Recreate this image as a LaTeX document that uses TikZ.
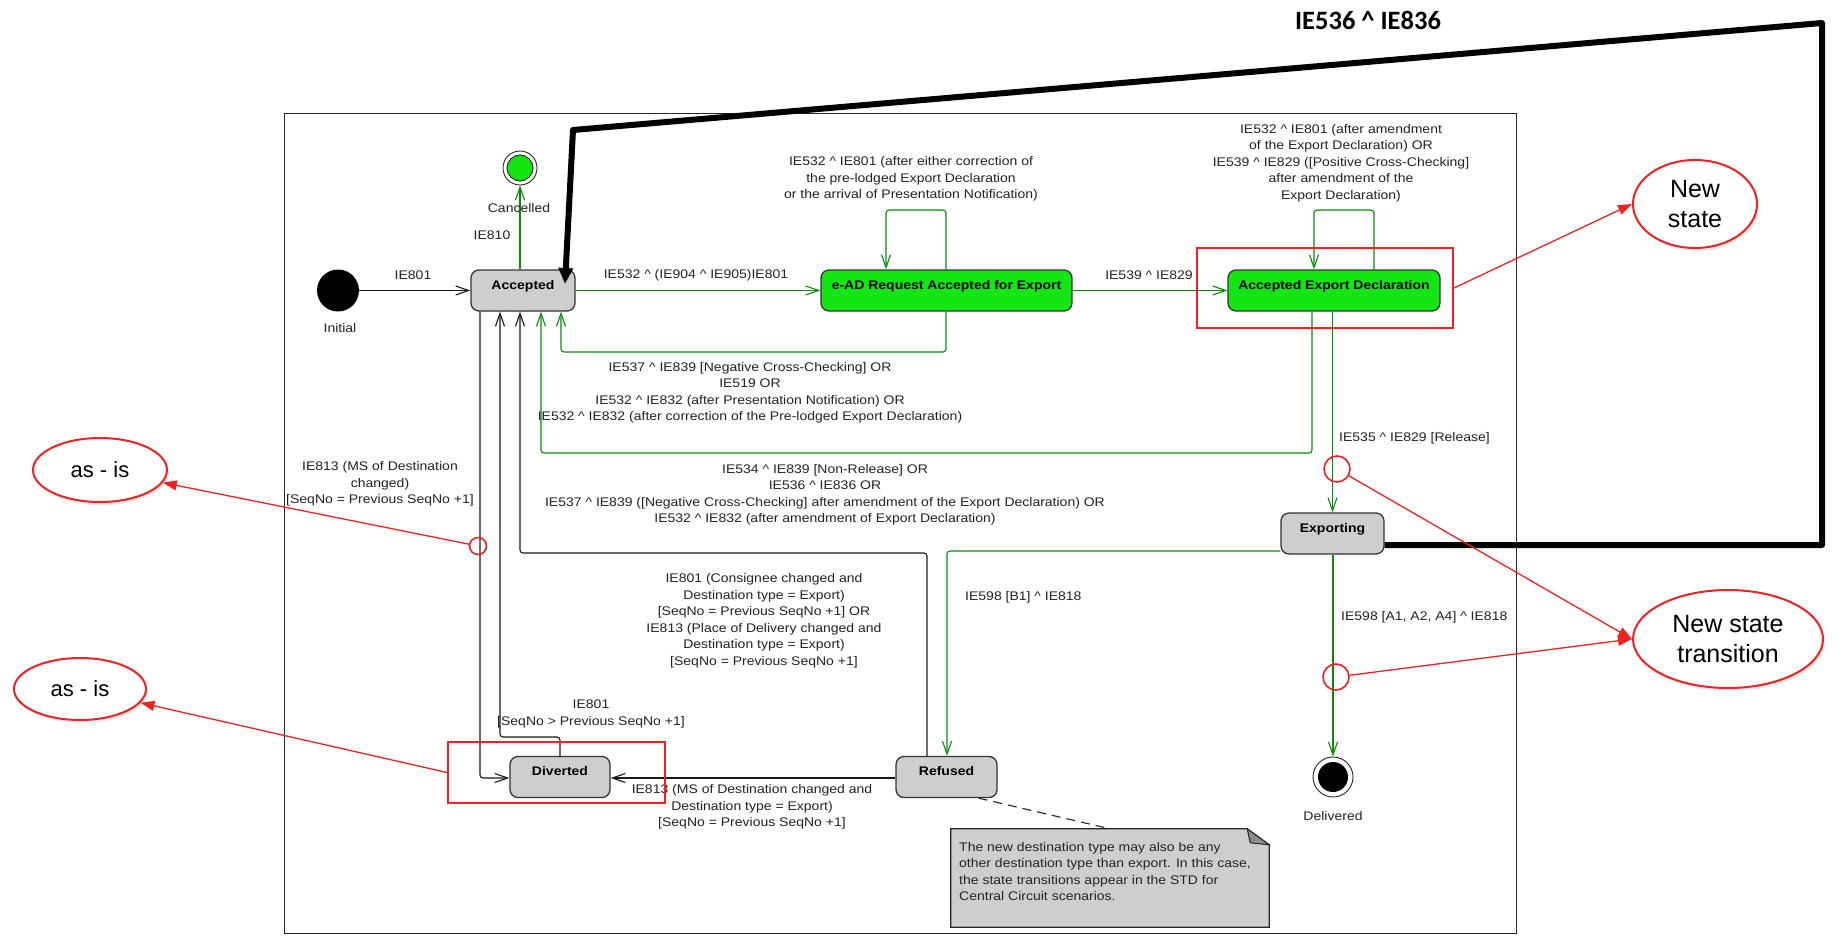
\documentclass[tikz,border=0pt]{standalone}
\usepackage{fontspec}
\setmainfont{Liberation Sans}[FakeStretch=1.12]
\newfontfamily\annfont{Liberation Sans}
\newfontfamily\titlefont{Carlito}
\usetikzlibrary{arrows.meta,shapes.geometric,shadows}
\newcommand{\caretsym}{\textasciicircum}
\definecolor{stgreen}{RGB}{20,230,20}
\definecolor{lngreen}{RGB}{10,140,10}
\definecolor{stgray}{RGB}{206,206,206}
\definecolor{annred}{RGB}{235,35,35}
\definecolor{txt}{RGB}{35,35,35}
\begin{document}
\begin{tikzpicture}[x=1pt,y=-1pt,
  lbl/.style={font=\fontsize{12.5}{16.5}\selectfont, text=txt, align=center, inner sep=0pt},
  statebox/.style={draw=black!80, line width=1.3pt, rounded corners=8pt, fill=stgray,
     font=\fontsize{12.5}{16}\selectfont\bfseries, text=black, inner sep=0pt,
     minimum height=41pt, text height=9pt, text depth=12pt},
  greenstate/.style={statebox, fill=stgreen},
  gline/.style={draw=lngreen, line width=1.1pt, rounded corners=3pt},
  bline/.style={draw=black!90, line width=1.1pt, rounded corners=3pt},
  umlarrow/.style={-{Straight Barb[length=13pt,width=9pt,line width=1.1pt]}},
  redbox/.style={draw=annred, line width=2pt, inner sep=0pt},
  redcirc/.style={circle, draw=annred, line width=1.6pt, inner sep=0pt},
  annell/.style={ellipse, draw=annred, line width=2pt, fill=white, inner sep=0pt,
     drop shadow={opacity=0.18, shadow xshift=2pt, shadow yshift=-3pt},
     font=\annfont\fontsize{25}{30}\selectfont, text=black, align=center},
  rarrow/.style={draw=annred, line width=1.3pt, -{Triangle[length=14pt,width=10pt]}}
]
\useasboundingbox (0,0) rectangle (1847,936);
\fill[white] (0,0) rectangle (1847,936);

% frame
\draw[line width=1pt, black!85] (284,114) rectangle (1516,933);

% title
\node[font=\titlefont\bfseries\fontsize{26.5}{30}\selectfont, text=black, inner sep=0pt] (title) at (1368,20) {IE536 \caretsym{} IE836};

% states
\node[circle, fill=black, minimum size=42pt, inner sep=0pt] (init) at (338,290.5) {};
\node[lbl] (initlbl) at (340,328) {Initial};
\node[statebox, minimum width=104pt] (acc) at (523,290.5) {Accepted};
\node[greenstate, minimum width=251pt] (ead) at (946.5,290.5) {e-AD Request Accepted for Export};
\node[greenstate, minimum width=212pt] (aed) at (1334,290.5) {Accepted Export Declaration};
\node[statebox, minimum width=103pt] (exp) at (1332.5,533.5) {Exporting};
\node[statebox, minimum width=100pt] (div) at (560,777) {Diverted};
\node[statebox, minimum width=101pt] (ref) at (946.5,777) {Refused};
\node[circle, draw=black!85, line width=0.9pt, fill=white, minimum size=34pt, inner sep=0pt] (canc) at (520,168) {};
\node[circle, draw=black!85, line width=0.9pt, fill=stgreen, minimum size=26pt, inner sep=0pt] (cancin) at (canc) {};
\node[circle, draw=black!85, line width=0.9pt, fill=white, minimum size=40pt, inner sep=0pt] (del) at (1333,777) {};
\node[circle, fill=black, minimum size=30pt, inner sep=0pt] (delin) at (del) {};
\node[lbl] (dellbl) at (1333,816) {Delivered};

% note
\node[minimum width=318pt, minimum height=98pt, inner sep=0pt] (note) at (1110,878) {};
\draw[fill=stgray, draw=black!85, line width=1.2pt] (note.north west) -- ([xshift=-22pt]note.north east) -- ([yshift=-16pt]note.north east) -- (note.south east) -- (note.south west) -- cycle;
\draw[fill=black!45, draw=black!85, line width=1pt] ([xshift=-22pt]note.north east) -- ([xshift=-19pt,yshift=-14pt]note.north east) -- ([yshift=-16pt]note.north east) -- cycle;
\node[lbl, align=left, anchor=north west] (notetxt) at (959,842) {The new destination type may also be any\\other destination type than export. In this case,\\the state transitions appear in the STD for\\Central Circuit scenarios.};

% coordinates for bends
\coordinate (l1r) at (946,210);
\coordinate (l1l) at (886,210);
\coordinate (l2r) at (1374,210);
\coordinate (l2l) at (1314,210);
\coordinate (r1a) at (946,352);
\coordinate (r1b) at (561,352);
\coordinate (r2a) at (1312,453);
\coordinate (r2b) at (541,453);
\coordinate (e1) at (947,551);
\coordinate (t1) at (1822,545);
\coordinate (t2) at (1822,23);
\coordinate (t3) at (573,130);
\coordinate (t4) at (565,284);
\coordinate (d1) at (480,778);
\coordinate (d2) at (500,737);
\coordinate (f1) at (927,553);
\coordinate (f2) at (520,553);

% connectors
\draw[gline, umlarrow] (acc.north -| canc) -- (canc.south);
\draw[bline, umlarrow] (init.east) -- (acc.west);
\draw[gline, umlarrow] (acc.east) -- (ead.west);
\draw[gline, umlarrow] (ead.north -| l1r) -- (l1r) -- (l1l) -- (ead.north -| l1l);
\draw[gline, umlarrow] (ead.south -| r1a) -- (r1a) -- (r1b) -- (acc.south -| r1b);
\draw[gline, umlarrow] (ead.east) -- (aed.west);
\draw[gline, umlarrow] (aed.north -| l2r) -- (l2r) -- (l2l) -- (aed.north -| l2l);
\draw[gline, umlarrow] (aed.south -| r2a) -- (r2a) -- (r2b) -- (acc.south -| r2b);
\draw[gline, umlarrow] (aed.south -| exp) -- (exp.north);
\draw[gline, umlarrow] (exp.west |- e1) -- (e1) -- (ref.north -| e1);
\draw[gline, umlarrow] (exp.south -| del) -- (del.north);
\draw[bline, umlarrow] (acc.south -| d1) -- (d1) -- (div.west |- d1);
\draw[bline, umlarrow] (div.north) -- (div.north |- d2) -- (d2) -- (acc.south -| d2);
\draw[bline, umlarrow] (ref.north -| f1) -- (f1) -- (f2) -- (acc.south -| f2);
\draw[bline, umlarrow] (ref.west |- d1) -- (div.east |- d1);
\draw[black!85, line width=1.1pt, dash pattern=on 9pt off 6pt] ([xshift=-19pt]ref.south east) -- (note.north);
\draw[line width=6pt, line join=round, -{Triangle[length=16pt,width=14pt]}] (exp.east |- t1) -- (t1) -- (t2) -- (t3) -- (t4);

% labels
\node[lbl] (canclbl) at (519,208) {Cancelled};
\node[lbl] (lb1) at (413,275) {IE801};
\node[lbl] (lb2) at (492,235) {IE810};
\node[lbl] (lb3) at (696,275) {IE532 \caretsym{} (IE904 \caretsym{} IE905)IE801};
\node[lbl] (lb4) at (911,179) {IE532 \caretsym{} IE801 (after either correction of\\the pre-lodged Export Declaration\\or the arrival of Presentation Notification)};
\node[lbl] (lb5) at (1149,275) {IE539 \caretsym{} IE829};
\node[lbl] (lb6) at (1341,163) {IE532 \caretsym{} IE801 (after amendment\\of the Export Declaration) OR\\IE539 \caretsym{} IE829 ([Positive Cross-Checking]\\after amendment of the\\Export Declaration)};
\node[lbl] (lb7) at (750,393) {IE537 \caretsym{} IE839 [Negative Cross-Checking] OR\\IE519 OR\\IE532 \caretsym{} IE832 (after Presentation Notification) OR\\IE532 \caretsym{} IE832 (after correction of the Pre-lodged Export Declaration)};
\node[lbl] (lb8) at (825,495) {IE534 \caretsym{} IE839 [Non-Release] OR\\IE536 \caretsym{} IE836 OR\\IE537 \caretsym{} IE839 ([Negative Cross-Checking] after amendment of the Export Declaration) OR\\IE532 \caretsym{} IE832 (after amendment of Export Declaration)};
\node[lbl, anchor=west] (lb9) at (1339,438) {IE535 \caretsym{} IE829 [Release]};
\node[lbl] (lb10) at (380,484) {IE813 (MS of Destination\\changed)\\{[}SeqNo = Previous SeqNo +1{]}};
\node[lbl] (lb11) at (764,621) {IE801 (Consignee changed and\\Destination type = Export)\\{[}SeqNo = Previous SeqNo +1{]} OR\\IE813 (Place of Delivery changed and\\Destination type = Export)\\{[}SeqNo = Previous SeqNo +1{]}};
\node[lbl] (lb12) at (591,714) {IE801\\{[}SeqNo > Previous SeqNo +1{]}};
\node[lbl] (lb13) at (752,807) {IE813 (MS of Destination changed and\\Destination type = Export)\\{[}SeqNo = Previous SeqNo +1{]}};
\node[lbl, anchor=west] (lb14) at (965,597) {IE598 [B1] \caretsym{} IE818};
\node[lbl, anchor=west] (lb15) at (1341,617) {IE598 [A1, A2, A4] \caretsym{} IE818};

% red annotations
\node[redbox, minimum width=256pt, minimum height=80pt] (rb1) at (1325,288) {};
\node[redbox, minimum width=217pt, minimum height=61pt] (rb2) at (556.5,772.5) {};
\node[redcirc, minimum size=17pt] (rc1) at (478,546) {};
\node[redcirc, minimum size=26pt] (rc2) at (1337,469) {};
\node[redcirc, minimum size=26pt] (rc3) at (1336,677) {};
\node[annell, minimum width=134pt, minimum height=64pt, font=\annfont\fontsize{22}{26}\selectfont] (asis1) at (100,470) {as - is};
\node[annell, minimum width=132pt, minimum height=62pt, font=\annfont\fontsize{22}{26}\selectfont] (asis2) at (80,689) {as - is};
\node[annell, minimum width=124pt, minimum height=88pt] (newst) at (1695,204) {New\\state};
\node[annell, minimum width=190pt, minimum height=98pt] (nst) at (1728,639) {New state\\transition};
\draw[rarrow] (rc1) -- (asis1);
\draw[rarrow] (rb2.west) -- (asis2);
\draw[rarrow] (rb1.east) -- (newst.west);
\draw[rarrow] (rc2) -- (nst.west);
\draw[rarrow] (rc3) -- (nst.west);
\end{tikzpicture}
\end{document}
